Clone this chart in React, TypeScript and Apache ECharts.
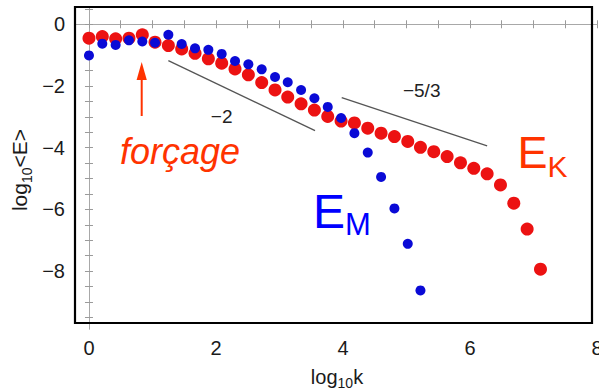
import React, { useEffect, useRef } from "react";
import * as echarts from "echarts";

// log10 k of each shell
const xVals = [0, 0.21, 0.42, 0.63, 0.84, 1.04, 1.25, 1.46, 1.67, 1.88, 2.09, 2.30, 2.51, 2.72, 2.93, 3.13, 3.34, 3.55, 3.76, 3.97, 4.18, 4.39, 4.60, 4.81, 5.02, 5.22, 5.43, 5.64, 5.85, 6.06, 6.27, 6.48, 6.69, 6.90, 7.11];
// log10 <E_K> (red)
const ekVals = [-0.45, -0.40, -0.47, -0.45, -0.34, -0.58, -0.69, -0.80, -0.94, -1.12, -1.26, -1.45, -1.64, -1.89, -2.13, -2.36, -2.58, -2.78, -2.99, -3.14, -3.20, -3.37, -3.53, -3.64, -3.80, -3.99, -4.13, -4.29, -4.49, -4.67, -4.85, -5.21, -5.80, -6.64, -7.94];
// log10 <E_M> (blue)
const emVals = [-1.01, -0.63, -0.67, -0.52, -0.56, -0.60, -0.34, -0.64, -0.78, -0.83, -0.96, -1.19, -1.30, -1.46, -1.71, -1.88, -2.13, -2.40, -2.68, -3.04, -3.53, -4.16, -4.95, -5.97, -7.12, -8.63];

const xTickLabels = [0, 2, 4, 6, 8];
const yTickLabels = [0, -2, -4, -6, -8];
// reference slope lines [x1, y1, x2, y2] in data units
const slope2 = [1.25, -1.18, 3.56, -3.45];
const slope53 = [3.98, -2.38, 6.27, -3.94];

const FONT = '"Liberation Sans", Arial, Helvetica, sans-serif';
const RED = "#ec1212";
const BLUE = "#0a0ad6";
const ORANGE = "#ff3300";

const ticksBetween = (a: number, b: number, step: number) => {
  const out: number[] = [];
  for (let v = a; v <= b + 1e-9; v += step) out.push(Math.round(v * 100) / 100);
  return out;
};

let ctx: CanvasRenderingContext2D | null = null;
const measure = (t: string, size: number, italic = false) => {
  if (!ctx) ctx = document.createElement("canvas").getContext("2d");
  if (!ctx) return t.length * size * 0.55;
  ctx.font = `${italic ? "italic " : ""}${size}px ${FONT}`;
  return ctx.measureText(t).width;
};

type Part = { t: string; s: number; dy: number };
const subText = (parts: Part[], x0: number, base: number, color: string) => {
  const els: any[] = [];
  let x = x0;
  for (const p of parts) {
    els.push({
      type: "text",
      x,
      y: base + p.dy - 0.35 * p.s,
      style: { text: p.t, fontSize: p.s, fontFamily: FONT, fill: color, align: "left", verticalAlign: "middle" },
    });
    x += measure(p.t, p.s);
  }
  return els;
};

const minus = (v: number) => String(v).replace("-", "\u2212");

export default function App() {
  const ref = useRef<HTMLDivElement>(null);
  useEffect(() => {
    if (!ref.current) return;
    const chart = echarts.init(ref.current, null, { renderer: "svg" });

    const yNameParts: Part[] = [
      { t: "log", s: 21, dy: 0 },
      { t: "10", s: 14, dy: 5 },
      { t: "<E>", s: 21, dy: 0 },
    ];
    const yNameW = yNameParts.reduce((a, p) => a + measure(p.t, p.s), 0);
    const yNameEls = subText(yNameParts, -yNameW / 2, 0, "#1a1a1a");

    const xNameParts: Part[] = [
      { t: "log", s: 20, dy: 0 },
      { t: "10", s: 14, dy: 4 },
      { t: "k", s: 20, dy: 0 },
    ];
    const xNameW = xNameParts.reduce((a, p) => a + measure(p.t, p.s), 0);
    const xNameEls = subText(xNameParts, 337 - xNameW / 2, 383.5, "#1a1a1a");

    const ekEls = subText(
      [
        { t: "E", s: 45, dy: 0 },
        { t: "K", s: 30, dy: 8.4 },
      ],
      517.5,
      168.3,
      ORANGE
    );
    const emEls = subText(
      [
        { t: "E", s: 48, dy: 0 },
        { t: "M", s: 31, dy: 6.7 },
      ],
      313,
      228.3,
      "#0000ff"
    );

    const axisBase = {
      type: "value" as const,
      axisLine: { show: true, lineStyle: { color: "#a8a8a8", width: 1 } },
      splitLine: { show: false },
    };

    chart.setOption({
      animation: false,
      grid: { left: 75, right: 2, top: 7, bottom: 62, containLabel: false, outerBoundsMode: "none" },
      xAxis: [
        {
          ...axisBase,
          position: "bottom",
          min: -0.22,
          max: 8,
          axisTick: { show: true, inside: true, length: 4, lineStyle: { color: "#9a9a9a" }, customValues: ticksBetween(0, 8, 0.5) },
          axisLabel: {
            show: true,
            customValues: xTickLabels,
            formatter: (v: number) => minus(v),
            fontSize: 20,
            fontFamily: FONT,
            color: "#1a1a1a",
            margin: 9,
          },
        },
        {
          ...axisBase,
          position: "top",
          min: -0.22,
          max: 8,
          axisTick: { show: true, inside: true, length: 4, lineStyle: { color: "#9a9a9a" }, customValues: ticksBetween(0, 8, 0.5) },
          axisLabel: { show: false },
        },
      ],
      yAxis: [
        {
          ...axisBase,
          position: "left",
          min: -9.88,
          max: 0.56,
          axisTick: { show: true, inside: true, length: 4, lineStyle: { color: "#9a9a9a" }, customValues: ticksBetween(-9.5, 0.5, 0.5) },
          axisLabel: {
            show: true,
            customValues: yTickLabels,
            formatter: (v: number) => minus(v),
            fontSize: 20,
            fontFamily: FONT,
            color: "#1a1a1a",
            margin: 10,
          },
        },
        {
          ...axisBase,
          position: "right",
          min: -9.88,
          max: 0.56,
          axisTick: { show: true, inside: true, length: 4, lineStyle: { color: "#9a9a9a" }, customValues: ticksBetween(-9.5, 0.5, 0.5) },
          axisLabel: { show: false },
        },
      ],
      series: [
        {
          name: "E_K",
          type: "scatter",
          xAxisIndex: 0,
          yAxisIndex: 0,
          symbol: "circle",
          symbolSize: 13,
          itemStyle: { color: RED, opacity: 1 },
          data: ekVals.map((v, i) => [xVals[i], v]),
          z: 2,
          markLine: {
            silent: true,
            symbol: "none",
            label: { show: false },
            lineStyle: { color: "#555555", width: 1.3, type: "solid" },
            data: [
              [{ coord: [slope2[0], slope2[1]] }, { coord: [slope2[2], slope2[3]] }],
              [{ coord: [slope53[0], slope53[1]] }, { coord: [slope53[2], slope53[3]] }],
            ],
          },
        },
        {
          name: "E_M",
          type: "scatter",
          xAxisIndex: 0,
          yAxisIndex: 0,
          symbol: "circle",
          symbolSize: 10,
          itemStyle: { color: BLUE, opacity: 1 },
          data: emVals.map((v, i) => [xVals[i], v]),
          z: 3,
        },
      ],
      graphic: [
        {
          type: "rect",
          shape: { x: 75, y: 7, width: 517, height: 316 },
          style: { fill: "none", stroke: "#000", lineWidth: 2.2 },
          z: 10,
        },
        {
          type: "text",
          x: 221.7,
          y: 116,
          style: { text: "\u22122", fontSize: 19, fontFamily: FONT, fill: "#222", align: "center", verticalAlign: "middle" },
        },
        {
          type: "text",
          x: 421.7,
          y: 90.7,
          style: { text: "\u22125/3", fontSize: 19, fontFamily: FONT, fill: "#222", align: "center", verticalAlign: "middle" },
        },
        {
          type: "text",
          x: 180,
          y: 151,
          style: { text: "forçage", fontSize: 36, fontStyle: "italic", fontFamily: FONT, fill: ORANGE, align: "center", verticalAlign: "middle" },
        },
        {
          type: "line",
          shape: { x1: 141.7, y1: 116, x2: 141.7, y2: 78 },
          style: { stroke: ORANGE, lineWidth: 2 },
        },
        {
          type: "polygon",
          shape: { points: [[141.7, 62], [136.6, 80], [146.8, 80]] },
          style: { fill: ORANGE },
        },
        ...ekEls,
        ...emEls,
        ...xNameEls,
        { type: "group", x: 27, y: 170, rotation: Math.PI / 2, children: yNameEls },
      ],
    });
    return () => chart.dispose();
  }, []);
  return <div ref={ref} style={{ position: "fixed", left: 0, top: 0, width: 599, height: 391, background: "#fff" }} />;
}
